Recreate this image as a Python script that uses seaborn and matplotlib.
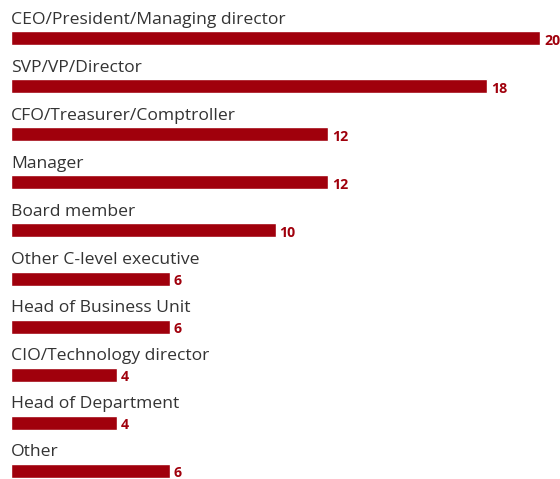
import matplotlib
matplotlib.use("Agg")
import matplotlib.pyplot as plt
import seaborn as sns
import pandas as pd

roles = [
    "CEO/President/Managing director",
    "SVP/VP/Director",
    "CFO/Treasurer/Comptroller",
    "Manager",
    "Board member",
    "Other C-level executive",
    "Head of Business Unit",
    "CIO/Technology director",
    "Head of Department",
    "Other",
]
shares = [20, 18, 12, 12, 10, 6, 6, 4, 4, 6]

BAR = "#a0000c"
TEXT = "#333333"

sns.set_theme(style="white")
plt.rcParams["font.family"] = ["Open Sans", "DejaVu Sans"]

df = pd.DataFrame({"role": roles, "share": shares})

fig = plt.figure(figsize=(5.6, 4.79), dpi=100)
ax = fig.add_axes([0, 0, 1, 1])

sns.barplot(data=df, y="role", x="share", orient="h", color=BAR,
            width=0.29, saturation=1, ax=ax)

px_x = 26.45  # pixels per unit on x
px_y = 48.11  # pixels per category step
ax.set_xlim(-11 / px_x, (560 - 11) / px_x)
ax.set_ylim(9 + 8 / px_y, -(479 - 441) / px_y)
ax.axis("off")

for i, (r, v) in enumerate(zip(roles, shares)):
    ax.text(0, i - 14.5 / px_y, r, ha="left", va="baseline",
            fontsize=12.6, color=TEXT)
    ax.text(v + 4 / px_x, i + 6.5 / px_y, str(v), ha="left", va="baseline",
            fontsize=10.2, fontweight="bold", color=BAR)

fig.savefig("out.png", dpi=100)
